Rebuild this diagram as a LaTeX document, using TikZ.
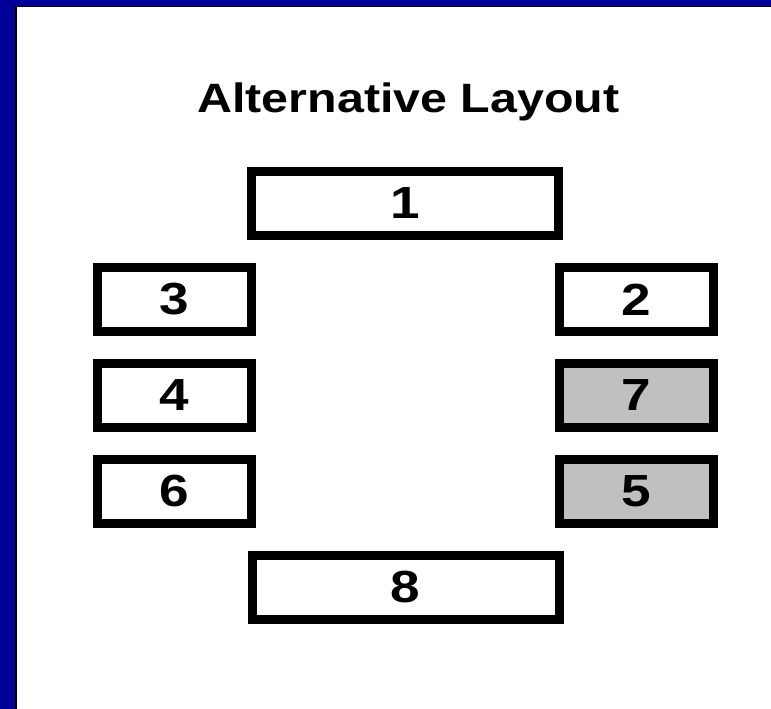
\documentclass[tikz,border=0pt]{standalone}
\usepackage{fontspec}
\usepackage{graphicx}
\setmainfont{Liberation Sans}
\definecolor{slideblue}{RGB}{0,0,153}
\definecolor{cellgray}{RGB}{192,192,192}
\tikzset{
  cell/.style={draw=black, line width=9pt, fill=white, inner sep=0pt,
    minimum height=64pt,
    font=\fontsize{45}{45}\selectfont\bfseries},
  widecell/.style={cell, minimum width=307pt},
  sidecell/.style={cell, minimum width=154pt},
  shaded/.style={fill=cellgray},
}
\newcommand{\wideglyph}[1]{\scalebox{1.18}[1]{#1}}
\begin{document}
\begin{tikzpicture}[x=1pt, y=-1pt]
  \useasboundingbox (0,0) rectangle (771,709);
  % slide backdrop and page
  \fill[slideblue] (0,0) rectangle (771,709);
  \draw[black, line width=1.5pt, fill=white] (15.75,6.75) rectangle (790,730);

  % heading
  \node[anchor=base, inner sep=0pt, font=\fontsize{41}{41}\selectfont\bfseries]
    (title) at (408.5,112) {\scalebox{1.18}[1]{Alternative Layout}};

  % top and bottom cells
  \node[widecell] (c1) at (405,203.5) {\wideglyph{1}};
  \node[widecell] (c8) at (405.5,587.5) {\wideglyph{8}};

  % left column
  \node[sidecell] (c3) at (174.5,299.5) {\wideglyph{3}};
  \node[sidecell] (c4) at (174.5,395.5) {\wideglyph{4}};
  \node[sidecell] (c6) at (174.5,491) {\wideglyph{6}};

  % right column
  \node[sidecell] (c2) at (636.5,299.5) {\wideglyph{2}};
  \node[sidecell, shaded] (c7) at (636.5,395.5) {\wideglyph{7}};
  \node[sidecell, shaded] (c5) at (636.5,491) {\wideglyph{5}};
\end{tikzpicture}
\end{document}
